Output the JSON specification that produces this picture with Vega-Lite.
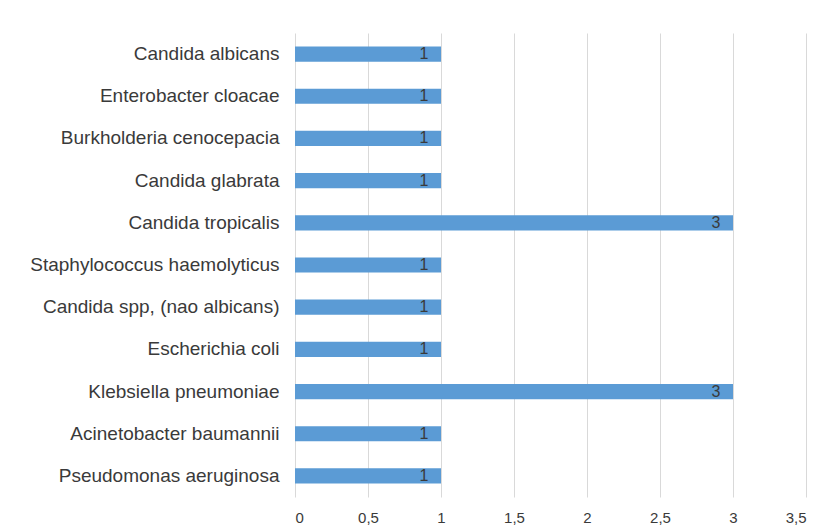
{
  "$schema": "https://vega.github.io/schema/vega-lite/v6.json",
  "width": 511,
  "height": 464,
  "autosize": {"type": "none"},
  "padding": {"left": 295, "top": 33, "right": 21, "bottom": 35},
  "background": "white",
  "config": {
    "view": {"stroke": null},
    "font": "Liberation Sans",
    "axis": {"labelFont": "Liberation Sans", "labelColor": "#3a3a3a"}
  },
  "data": {
    "values": [
      {"organism": "Candida albicans", "count": 1},
      {"organism": "Enterobacter cloacae", "count": 1},
      {"organism": "Burkholderia cenocepacia", "count": 1},
      {"organism": "Candida glabrata", "count": 1},
      {"organism": "Candida tropicalis", "count": 3},
      {"organism": "Staphylococcus haemolyticus", "count": 1},
      {"organism": "Candida spp, (nao albicans)", "count": 1},
      {"organism": "Escherichia coli", "count": 1},
      {"organism": "Klebsiella pneumoniae", "count": 3},
      {"organism": "Acinetobacter baumannii", "count": 1},
      {"organism": "Pseudomonas aeruginosa", "count": 1}
    ]
  },
  "encoding": {
    "y": {
      "field": "organism", "type": "nominal", "sort": null,
      "scale": {"paddingInner": 0.64, "paddingOuter": 0.32},
      "axis": {"title": null, "domain": false, "ticks": false, "labelPadding": 16, "grid": false, "labelLimit": 300, "labelFontSize": 19}
    },
    "x": {
      "field": "count", "type": "quantitative",
      "scale": {"domain": [0, 3.5], "nice": false},
      "axis": {"title": null, "values": [0, 0.5, 1, 1.5, 2, 2.5, 3, 3.5], "labelExpr": "replace(format(datum.value, ''), '.', ',')", "domain": false, "ticks": false, "labelPadding": 13, "gridColor": "#d9d9d9", "gridWidth": 1, "labelFontSize": 15}
    }
  },
  "layer": [
    {"mark": {"type": "bar", "color": "#5b9bd5"}},
    {"mark": {"type": "text", "align": "center", "dx": -17, "baseline": "middle", "fontSize": 16, "color": "#3a3a3a"}, "encoding": {"text": {"field": "count", "type": "quantitative"}}}
  ]
}
